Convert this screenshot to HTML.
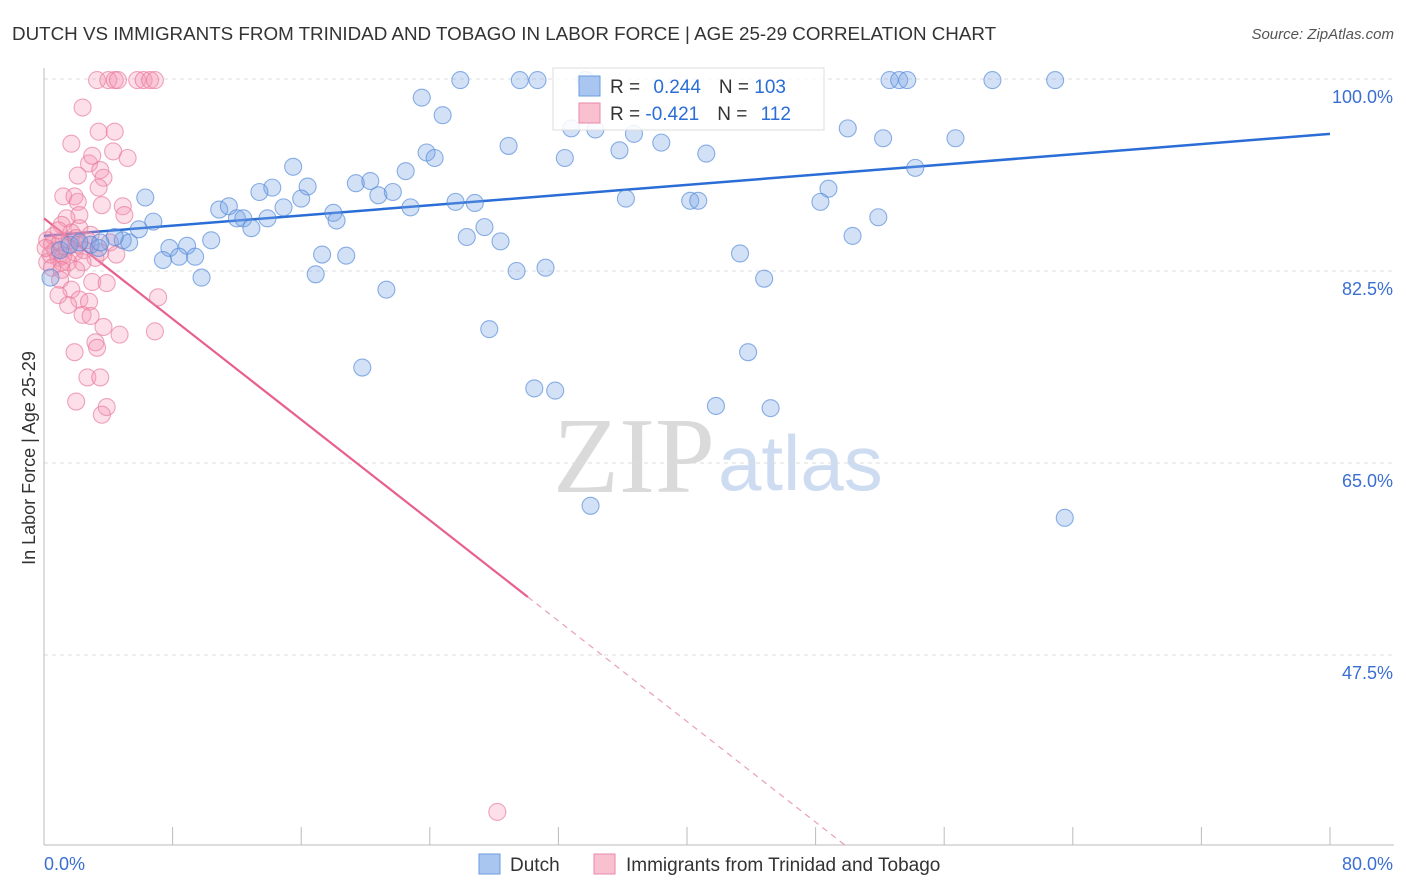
<!DOCTYPE html>
<html><head><meta charset="utf-8"><style>
body{margin:0;background:#fff;font-family:"Liberation Sans",sans-serif;}
svg{display:block}
</style></head><body>
<svg id="chart" width="1406" height="892">
<text x="12" y="40" font-size="18.8" fill="#333">DUTCH VS IMMIGRANTS FROM TRINIDAD AND TOBAGO IN LABOR FORCE | AGE 25-29 CORRELATION CHART</text>
<text x="1394" y="39" font-size="15" fill="#555" font-style="italic" text-anchor="end">Source: ZipAtlas.com</text>
<text x="35" y="458" font-size="18" fill="#333" text-anchor="middle" transform="rotate(-90 35 458)">In Labor Force | Age 25-29</text>
<text x="553" y="492" font-size="108" fill="#dadada" font-family="Liberation Serif,serif">ZIP</text>
<text x="718" y="490" font-size="78" fill="#cddcf1">atlas</text>
<g id="grid"></g><g id="axes"></g><g id="lines"></g><g id="pts"></g>
<g>
<rect x="553" y="68" width="271" height="62" fill="#fff" fill-opacity="0.85" stroke="#ddd"/>
<rect x="579" y="76" width="21" height="20" fill="#a9c6f0" stroke="#6b9de0"/>
<rect x="579" y="103" width="21" height="20" fill="#f9c0d0" stroke="#e98aa8"/>
<text x="610" y="93" font-size="19" fill="#333">R = <tspan fill="#2a6dd6" dx="8">0.244</tspan><tspan dx="18" fill="#333">N = </tspan><tspan fill="#2a6dd6">103</tspan></text>
<text x="610" y="120" font-size="19" fill="#333">R = <tspan fill="#2a6dd6">-0.421</tspan><tspan dx="18" fill="#333">N = </tspan><tspan fill="#2a6dd6" dx="8">112</tspan></text>
</g>
<g>
<rect x="479" y="854" width="21" height="20" fill="#a9c6f0" stroke="#6b9de0"/>
<text x="510" y="871" font-size="19" fill="#333">Dutch</text>
<rect x="594" y="854" width="21" height="20" fill="#f9c0d0" stroke="#e98aa8"/>
<text x="626" y="871" font-size="19" fill="#333">Immigrants from Trinidad and Tobago</text>
</g>
</svg>
<script>
const yTicks=[100,82.5,65,47.5];
const yTickLabels=["100.0%","82.5%","65.0%","47.5%"];
const xTicks=[0,8,16,24,32,40,48,56,64,72,80];
const dutchX=[25.9,29.6,30.7,33.7,52.6,53.2,53.7,59.0,62.9,23.5,24.8,32.8,36.7,56.7,50.0,52.2,28.9,23.8,24.3,32.4,35.8,38.4,41.2,15.5,22.5,54.2,6.3,14.2,16.4,13.4,19.4,20.3,20.8,21.7,16.0,14.9,10.9,11.5,12.0,12.4,13.9,12.9,6.8,18.0,18.2,22.8,25.6,26.8,36.2,40.2,40.7,48.8,48.3,51.9,5.9,4.9,5.3,4.4,2.9,3.4,26.3,27.4,28.4,10.4,7.8,8.9,7.4,8.4,9.4,17.3,18.8,9.8,16.9,29.4,31.2,43.3,50.3,44.8,21.3,27.7,19.8,30.5,31.8,43.8,41.8,45.2,34.0,63.5,0.4,1.0,1.6,2.2,3.5,34.3];
const dutchY=[99.9,99.9,99.9,99.9,99.9,99.9,99.9,99.9,99.9,98.3,96.7,95.5,95.0,94.6,95.5,94.6,93.9,93.3,92.8,92.8,93.5,94.2,93.2,92.0,91.6,91.9,89.2,90.1,90.2,89.7,90.5,90.7,89.4,89.7,89.1,88.3,88.1,88.4,87.3,87.3,87.3,86.4,87.0,87.8,87.1,88.3,88.8,88.7,89.1,88.9,88.9,90.0,88.8,87.4,86.3,85.3,85.1,85.6,84.9,84.6,85.6,86.5,85.2,85.3,84.6,84.8,83.5,83.8,83.8,84.0,83.9,81.9,82.2,82.5,82.8,84.1,85.7,81.8,80.8,77.2,73.7,71.8,71.6,75.1,70.2,70.0,61.1,60.0,81.9,84.4,84.9,85.1,85.1,95.4];
const trinX=[3.3,4.0,4.4,4.6,5.8,6.2,6.6,6.9,2.4,1.7,3.4,4.4,4.3,5.2,2.8,3.5,3.0,2.1,3.7,3.4,1.2,1.9,2.1,3.6,2.2,1.4,1.1,4.9,5.0,2.2,2.9,0.2,0.5,0.7,0.4,0.9,1.1,1.4,1.6,1.9,0.6,1.0,1.2,0.2,0.5,1.5,2.1,2.5,2.7,1.7,0.9,0.1,1.1,3.5,4.1,4.5,3.2,2.4,2.0,1.0,2.0,3.0,3.9,1.7,0.9,2.2,1.5,2.8,7.1,2.4,2.9,3.7,4.7,6.9,3.2,3.3,1.9,2.7,3.5,2.0,3.9,3.6,28.2];
const trinY=[99.9,99.9,99.9,99.9,99.9,99.9,99.9,99.9,97.4,94.1,95.2,95.2,93.4,92.8,92.3,91.7,93.0,91.2,91.0,90.1,89.3,89.3,88.8,88.5,87.6,87.3,86.7,88.4,87.6,86.4,85.8,85.3,84.9,84.4,84.0,83.7,83.3,84.6,85.3,84.2,85.7,85.1,83.9,83.3,82.8,83.3,84.9,84.4,85.3,86.0,86.2,84.6,82.6,84.2,85.1,84.0,83.7,83.3,85.5,81.7,82.6,81.5,81.4,80.8,80.3,79.9,79.4,79.7,80.1,78.5,78.4,77.4,76.7,77.0,76.0,75.5,75.1,72.8,72.8,70.6,70.1,69.4,33.2];
const dutchTrend=[85.7,95.0];
const trinTrend=[87.3,30.2];
const trinTrendX=[0,49.8,30.1];
const NS="http://www.w3.org/2000/svg";
function X(v){return 44+v*1286/80;}
function Y(v){return 79+(100-v)*192/17.5;}
function mk(t,a,p){const e=document.createElementNS(NS,t);for(const k in a)e.setAttribute(k,a[k]);p.appendChild(e);return e;}
const grid=document.getElementById('grid'),axes=document.getElementById('axes'),lines=document.getElementById('lines'),pts=document.getElementById('pts');
yTicks.forEach((t,i)=>{
 const l=mk('line',{x1:44,x2:1394,y1:Y(t),y2:Y(t),stroke:'#ddd','stroke-dasharray':'4 4'},grid);
 
 
 const tx=mk('text',{x:1393,y:Y(t)+24,'text-anchor':'end','font-size':18,fill:'#3a6fd1'},axes);
 tx.textContent=yTickLabels[i];
 
 
});
mk('line',{x1:44,x2:44,y1:68,y2:845,stroke:'#bbb'},axes);
mk('line',{x1:44,x2:1394,y1:845,y2:845,stroke:'#bbb'},axes);
xTicks.forEach(t=>{
 const l=mk('line',{x1:X(t),x2:X(t),y1:827,y2:845,stroke:'#bbb'},axes);
 
 
});
const x0=mk('text',{x:44,y:870,'font-size':18,fill:'#3a6fd1'},axes);x0.textContent='0.0%';


const x1=mk('text',{x:1393,y:870,'font-size':18,fill:'#3a6fd1','text-anchor':'end'},axes);x1.textContent='80.0%';


function pt(x,y,f,s,n){const c=mk('circle',{cx:X(x),cy:Y(y),r:8.5,fill:f,stroke:s,'stroke-width':1.1},pts);
 
 }
trinX.forEach((x,i)=>pt(x,trinY[i],'rgba(244,150,180,0.3)','rgba(230,120,155,0.65)','trinidad-point'));
dutchX.forEach((x,i)=>pt(x,dutchY[i],'rgba(120,165,230,0.33)','rgba(80,135,215,0.65)','dutch-point'));
const slope=(trinTrend[1]-trinTrend[0])/trinTrendX[1];
const bl=mk('line',{x1:X(0),y1:Y(dutchTrend[0]),x2:X(80),y2:Y(dutchTrend[1]),stroke:'#2a6dd6','stroke-width':2.5},lines);


const ps=mk('line',{x1:X(0),y1:Y(trinTrend[0]),x2:X(trinTrendX[2]),y2:Y(trinTrend[0]+slope*trinTrendX[2]),stroke:'#e8608c','stroke-width':2.2},lines);


const pd=mk('line',{x1:X(trinTrendX[2]),y1:Y(trinTrend[0]+slope*trinTrendX[2]),x2:X(trinTrendX[1]),y2:Y(trinTrend[1]),stroke:'#e8a0b8','stroke-width':1.2,'stroke-dasharray':'6 5'},lines);


</script>
</body></html>
